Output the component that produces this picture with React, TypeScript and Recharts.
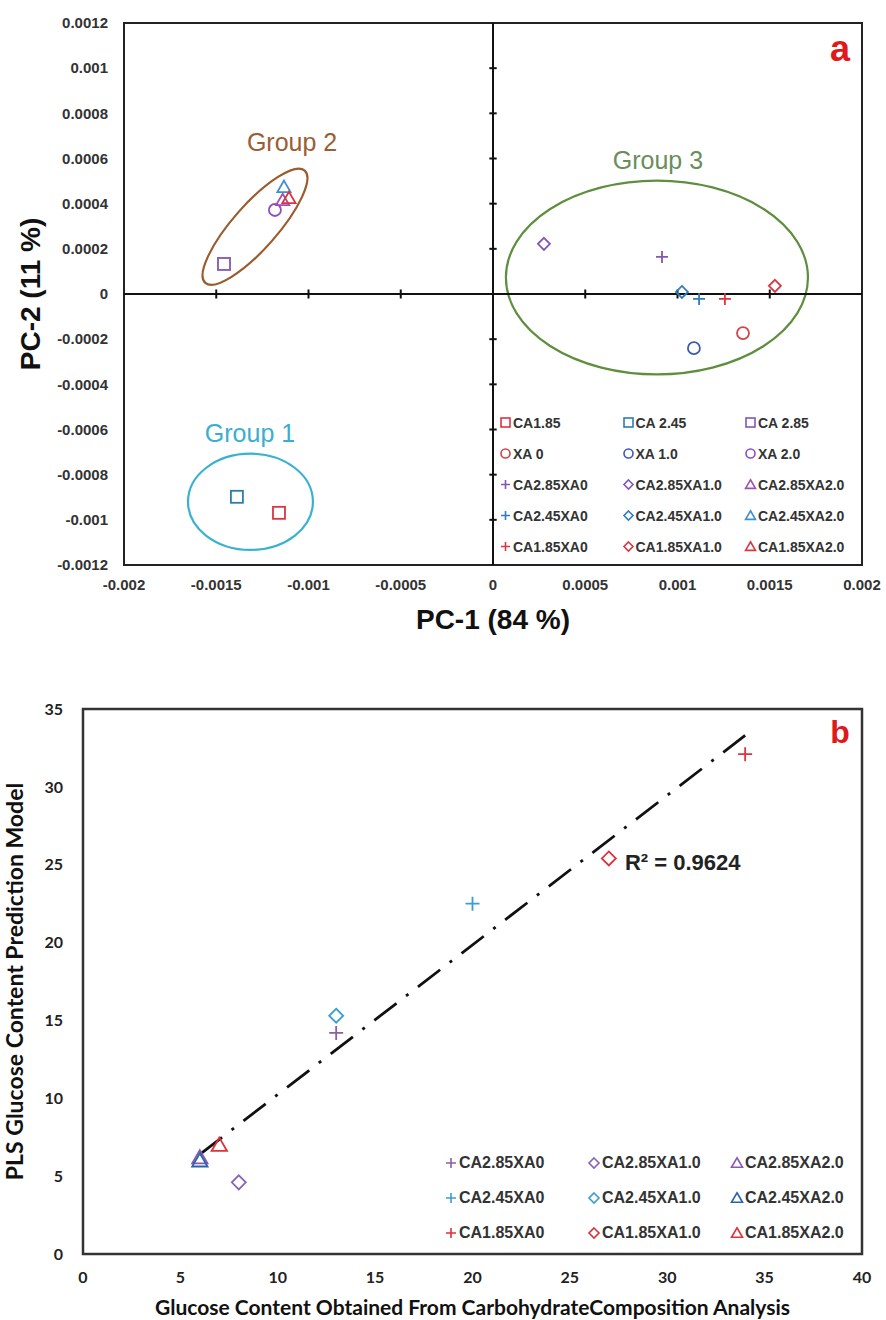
import React from "react";
import {
  ScatterChart, Scatter, XAxis, YAxis, ReferenceLine, ReferenceArea, ReferenceDot, Legend,
} from "recharts";

// ---- panel a: PCA scores ----
const pcaNames = [
  "CA1.85", "CA 2.45", "CA 2.85",
  "XA 0", "XA 1.0", "XA 2.0",
  "CA2.85XA0", "CA2.85XA1.0", "CA2.85XA2.0",
  "CA2.45XA0", "CA2.45XA1.0", "CA2.45XA2.0",
  "CA1.85XA0", "CA1.85XA1.0", "CA1.85XA2.0",
];
const pcaX = [
  -0.00116, -0.001388, -0.001458,
  0.001355, 0.001089, -0.001182,
  0.000916, 0.000276, -0.00114,
  0.001117, 0.001024, -0.001133,
  0.001257, 0.001528, -0.001106,
];
const pcaY = [
  -0.000969, -0.000898, 0.000133,
  -0.000173, -0.00024, 0.000372,
  0.000164, 0.000222, 0.000416,
  -0.000022, 0.000009, 0.000474,
  -0.000022, 0.000036, 0.000425,
];
const pcaXTicks = [-0.002, -0.0015, -0.001, -0.0005, 0, 0.0005, 0.001, 0.0015, 0.002];
const pcaYTicks = [
  -0.0012, -0.001, -0.0008, -0.0006, -0.0004, -0.0002, 0,
  0.0002, 0.0004, 0.0006, 0.0008, 0.001, 0.0012,
];

// group outlines (unrotated box in data units) and their labels
const groupNames = ["Group 1", "Group 2", "Group 3"];
const groupX1 = [-0.001653, -0.0016965, 0.00007];
const groupX2 = [-0.000976, -0.0008835, 0.001707];
const groupY1 = [-0.001133, 0.0002, -0.000356];
const groupY2 = [-0.000707, 0.0003956, 0.000502];
const groupLabelX = [-0.001317, -0.001089, 0.000894];
const groupLabelY = [-0.000618, 0.000671, 0.000591];

// ---- panel b: PLS prediction ----
const plsNames = [
  "CA2.85XA0", "CA2.85XA1.0", "CA2.85XA2.0",
  "CA2.45XA0", "CA2.45XA1.0", "CA2.45XA2.0",
  "CA1.85XA0", "CA1.85XA1.0", "CA1.85XA2.0",
];
const measured = [13, 8, 6, 20, 13, 6, 34, 27, 7];
const predicted = [14.2, 4.6, 6.2, 22.5, 15.3, 6.0, 32.1, 25.4, 7.0];
const trendX = [6, 34];
const trendY = [6.4, 33.3];
const plsXTicks = [0, 5, 10, 15, 20, 25, 30, 35, 40];
const plsYTicks = [0, 5, 10, 15, 20, 25, 30, 35];

// styles
const RED = "#DC3540";
const BLUE = "#2F7DBE";
const PURPLE = "#8257B3";
const pcaKinds = [
  "square", "square", "square",
  "circle", "circle", "circle",
  "plus", "diamond", "triangle",
  "plus", "diamond", "triangle",
  "plus", "diamond", "triangle",
];
const pcaColors = [
  RED, "#2E7FA8", PURPLE,
  "#D24545", "#3A5CA8", "#8A4FC0",
  PURPLE, PURPLE, "#A050B0",
  BLUE, BLUE, "#3C8FD0",
  RED, RED, RED,
];
const groupColors = ["#38B2D0", "#9C5B2C", "#5F8F3E"];
const groupTextColors = ["#3AAED2", "#9A5E34", "#6A8E5A"];
const groupTilt = [0, -48.5, 0];

const plsKinds = ["plus", "diamond", "triangle", "plus", "diamond", "triangle", "plus", "diamond", "triangle"];
const plsColors = ["#8C5FA0", "#8A63B8", "#8A5AB0", "#3A9FCF", "#3A9FCF", "#2A62AE", "#E0303A", "#D8343C", "#E0303A"];

const pcaData = pcaNames.map((n, i) => [{ x: pcaX[i], y: pcaY[i] }]);
const plsData = plsNames.map((n, i) => [{ x: measured[i], y: predicted[i] }]);
const trendData = trendX.map((x, i) => ({ x, y: trendY[i] }));

function Marker({ cx, cy, kind, color, size, sw = 1.8 }: any) {
  const s = size / 2;
  const common = { fill: "none", stroke: color, strokeWidth: sw };
  if (kind === "square") return <rect x={cx - s} y={cy - s} width={size} height={size} {...common} />;
  if (kind === "circle") return <circle cx={cx} cy={cy} r={s} {...common} />;
  if (kind === "diamond")
    return <polygon points={`${cx},${cy - s} ${cx + s},${cy} ${cx},${cy + s} ${cx - s},${cy}`} {...common} />;
  if (kind === "triangle")
    return (
      <polygon
        points={`${cx},${cy - s * 1.05} ${cx + s * 1.1},${cy + s * 0.85} ${cx - s * 1.1},${cy + s * 0.85}`}
        {...common}
      />
    );
  return <path d={`M${cx - s},${cy}H${cx + s}M${cx},${cy - s}V${cy + s}`} {...common} />;
}

function EllipseShape({ x, y, width, height, color, tilt }: any) {
  const cx = x + width / 2;
  const cy = y + height / 2;
  return (
    <ellipse cx={cx} cy={cy} rx={width / 2} ry={height / 2} fill="none" stroke={color}
             strokeWidth={2.2} transform={`rotate(${tilt} ${cx} ${cy})`} />
  );
}

function GridLegend({ payload, names, kinds, colors, colWidth, rowHeight, fontSize, markerSize }: any) {
  const items = (payload ?? [])
    .filter((e: any) => names.includes(e.value))
    .sort((a: any, b: any) => names.indexOf(a.value) - names.indexOf(b.value));
  const box = markerSize + 4;
  return (
    <div style={{
      display: "grid", gridTemplateColumns: `repeat(3, ${colWidth}px)`, gridAutoRows: rowHeight,
      width: colWidth * 3,
    }}>
      {items.map((e: any) => {
        const i = names.indexOf(e.value);
        return (
          <div key={e.value} style={{
            display: "flex", alignItems: "center", fontSize, fontWeight: 700, color: "#333",
            whiteSpace: "nowrap", fontFamily: "'Liberation Sans', Arial, sans-serif",
          }}>
            <svg width={box} height={box} style={{ flex: "none" }}>
              <Marker cx={box / 2} cy={box / 2} kind={kinds[i]} color={colors[i]} size={markerSize} sw={1.6} />
            </svg>
            <span style={{ marginLeft: 1 }}>{e.value}</span>
          </div>
        );
      })}
    </div>
  );
}

const fmt = (v: number) => (v === 0 ? "0" : String(Number(v.toPrecision(4))));

function PcaChart() {
  const tickStyle = { fill: "#333", fontSize: 15, fontWeight: 700 };
  return (
    <ScatterChart width={886} height={640} margin={{ top: 23, right: 24, bottom: 0, left: 0 }}>
      <XAxis type="number" dataKey="x" domain={[-0.002, 0.002]} ticks={pcaXTicks} tickFormatter={fmt}
             axisLine={false} tickLine={false} tickSize={0} tickMargin={14} tick={tickStyle} height={75}
             label={{ value: "PC-1 (84 %)", position: "insideBottom", offset: 11, fill: "#111", fontSize: 28, fontWeight: 700 }} />
      <YAxis type="number" dataKey="y" domain={[-0.0012, 0.0012]} ticks={pcaYTicks} tickFormatter={fmt}
             axisLine={false} tickLine={false} tickSize={0} tickMargin={16} tick={tickStyle} width={124}
             label={{ value: "PC-2 (11 %)", angle: -90, position: "insideLeft", offset: 30, fill: "#111",
                      fontSize: 28, fontWeight: 700, style: { textAnchor: "middle" } }} />
      <ReferenceArea x1={-0.002} x2={0.002} y1={-0.0012} y2={0.0012} fill="none" fillOpacity={0}
                     stroke="#222" strokeWidth={2} />
      {groupNames.map((g, i) => (
        <ReferenceArea key={g} x1={groupX1[i]} x2={groupX2[i]} y1={groupY1[i]} y2={groupY2[i]}
                       shape={(p: any) => <EllipseShape {...p} color={groupColors[i]} tilt={groupTilt[i]} />} />
      ))}
      {groupNames.map((g, i) => (
        <ReferenceDot key={g + "l"} x={groupLabelX[i]} y={groupLabelY[i]} r={0} fill="none" stroke="none"
                      label={{ value: g, position: "center", fill: groupTextColors[i], fontSize: 25 }} />
      ))}
      <ReferenceDot x={0.001881} y={0.001089} r={0} fill="none" stroke="none"
                    label={{ value: "a", position: "center", fill: "#E01A1A", fontSize: 36, fontWeight: 700 }} />
      <ReferenceLine x={0} stroke="#111" strokeWidth={2} />
      <ReferenceLine y={0} stroke="#111" strokeWidth={2} />
      {pcaYTicks.filter((v) => v !== 0 && Math.abs(v) < 0.0012).map((v) => (
        <ReferenceLine key={"yt" + v} segment={[{ x: -0.00002, y: v }, { x: 0.00002, y: v }]} stroke="#111" strokeWidth={2} />
      ))}
      {pcaXTicks.filter((v) => v !== 0 && Math.abs(v) < 0.002).map((v) => (
        <ReferenceLine key={"xt" + v} segment={[{ x: v, y: -0.00002 }, { x: v, y: 0.00002 }]} stroke="#111" strokeWidth={2} />
      ))}
      {pcaNames.map((n, i) => (
        <Scatter key={n} name={n} data={pcaData[i]} isAnimationActive={false}
                 shape={(p: any) => <Marker cx={p.cx} cy={p.cy} kind={pcaKinds[i]} color={pcaColors[i]} size={12} />} />
      ))}
      <Legend layout="vertical" align="center" verticalAlign="middle"
              wrapperStyle={{ left: 499, top: 407, width: 0, height: 0, overflow: "visible" }}
              content={(props: any) => (
                <GridLegend payload={props.payload} names={pcaNames} kinds={pcaKinds} colors={pcaColors}
                            colWidth={122.5} rowHeight={31} fontSize={14} markerSize={9} />
              )} />
    </ScatterChart>
  );
}

function PlsChart() {
  const tickStyle = { fill: "#222", fontSize: 16, fontWeight: 700, fontFamily: "Lato, 'Open Sans', sans-serif" };
  return (
    <ScatterChart width={886} height={680} margin={{ top: 69, right: 24, bottom: 0, left: 0 }}>
      <XAxis type="number" dataKey="x" domain={[0, 40]} ticks={plsXTicks} axisLine={false} tickLine={false}
             tickSize={0} tickMargin={18} tick={tickStyle} height={66}
             label={{ value: "Glucose Content Obtained From CarbohydrateComposition Analysis", position: "insideBottom",
                      offset: 5, fill: "#111", fontSize: 21, fontWeight: 700, fontFamily: "Lato, sans-serif" }} />
      <YAxis type="number" dataKey="y" domain={[0, 35]} ticks={plsYTicks} axisLine={false} tickLine={false}
             tickSize={0} tickMargin={20} tick={tickStyle} width={83}
             label={{ value: "PLS Glucose Content Prediction Model", angle: -90, position: "insideLeft", offset: 15,
                      fill: "#111", fontSize: 23, fontWeight: 700, fontFamily: "Lato, sans-serif",
                      style: { textAnchor: "middle" } }} />
      <ReferenceArea x1={0} x2={40} y1={0} y2={35} fill="none" fillOpacity={0} stroke="#333" strokeWidth={2.5} />
      <Scatter data={trendData} legendType="none" isAnimationActive={false} shape={() => <g />}
               line={{ stroke: "#111", strokeWidth: 2.8, strokeDasharray: "28 12 3 12" }} />
      {plsNames.map((n, i) => (
        <Scatter key={n} name={n} data={plsData[i]} isAnimationActive={false}
                 shape={(p: any) => <Marker cx={p.cx} cy={p.cy} kind={plsKinds[i]} color={plsColors[i]} size={14} />} />
      ))}
      <ReferenceDot x={27.83} y={25.18} r={0} fill="none" stroke="none"
                    label={{ value: "R² = 0.9624", position: "right", offset: 0, fill: "#222", fontSize: 22, fontWeight: 700 }} />
      <ReferenceDot x={38.87} y={33.53} r={0} fill="none" stroke="none"
                    label={{ value: "b", position: "center", fill: "#E01A1A", fontSize: 32, fontWeight: 700 }} />
      <Legend layout="vertical" align="center" verticalAlign="middle"
              wrapperStyle={{ left: 444, top: 505, width: 0, height: 0, overflow: "visible" }}
              content={(props: any) => (
                <GridLegend payload={props.payload} names={plsNames} kinds={plsKinds} colors={plsColors}
                            colWidth={143} rowHeight={35} fontSize={16} markerSize={10} />
              )} />
    </ScatterChart>
  );
}

export default function App() {
  return (
    <div style={{
      position: "absolute", left: 0, top: 0, width: 886, height: 1320, background: "#fff",
      fontFamily: "'Liberation Sans', Arial, sans-serif",
    }}>
      <PcaChart />
      <PlsChart />
    </div>
  );
}
